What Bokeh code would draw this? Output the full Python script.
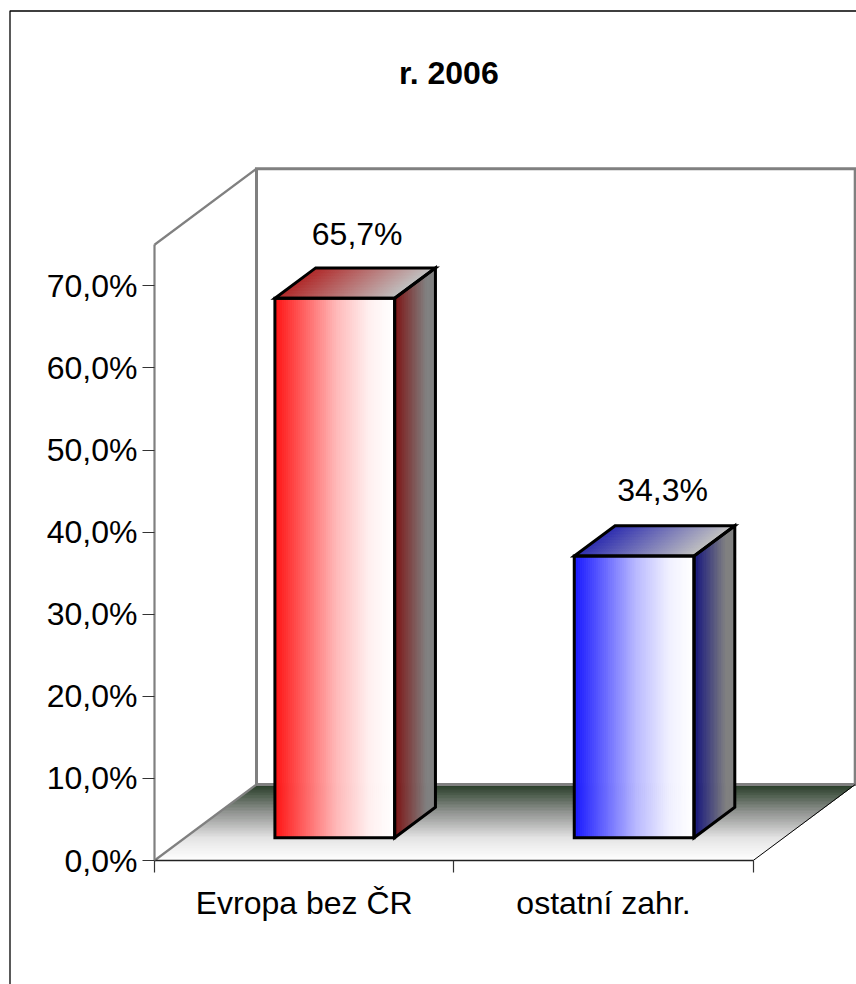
from bokeh.plotting import figure
from bokeh.models import Range1d, LinearAxis, FixedTicker
from bokeh.core.properties import value
from bokeh.embed import file_html
from bokeh.resources import INLINE

# ---- data
categories = ["Evropa bez ČR", "ostatní zahr."]
shares = [65.7, 34.3]
share_labels = ["65,7%", "34,3%"]
y_ticks = [0, 10, 20, 30, 40, 50, 60, 70]
y_tick_labels = ["0,0%", "10,0%", "20,0%", "30,0%", "40,0%", "50,0%", "60,0%", "70,0%"]
title_text = "r. 2006"

# ---- layout / projection
W, H = 856, 984
PX_X, PX_Y = 299.35, 8.21          # pixels per category, per percent
ORIGIN_X, ORIGIN_Y = 154.0, 860.0  # origin inside the figure, pixels
DEPTH_X, DEPTH_Y = 102 / PX_X, 76 / PX_Y
Y_MAX = 75
BAR_X = (0.3, 0.7)
BAR_D = (0.3, 0.7)
FONT = "Liberation Sans"
FS = "32px"
LABEL_DX = [2, 8]
LABEL_DY = [-49, -51]

x_lo, x_hi = -ORIGIN_X / PX_X, (W - ORIGIN_X) / PX_X
y_lo, y_hi = -(H - ORIGIN_Y) / PX_Y, ORIGIN_Y / PX_Y

p = figure(width=W, height=H, output_backend="svg", toolbar_location=None,
           x_range=Range1d(x_lo, x_hi), y_range=Range1d(y_lo, y_hi),
           x_axis_type=None, y_axis_type=None, min_border=0,
           outline_line_color=None, background_fill_color="white",
           border_fill_color="white")
p.grid.visible = False


def proj(x, v, d):
    return x + d * DEPTH_X, v + d * DEPTH_Y


def ramp(stops, t):
    for (t0, c0), (t1, c1) in zip(stops, stops[1:]):
        if t <= t1:
            f = (t - t0) / (t1 - t0)
            return "#%02x%02x%02x" % tuple(round(a + (b - a) * f) for a, b in zip(c0, c1))
    return "#%02x%02x%02x" % stops[-1][1]


def gradient(quads, stops):
    xs, ys, cols = [], [], []
    n = len(quads)
    for i, q in enumerate(quads):
        xs.append([a for a, _ in q])
        ys.append([b for _, b in q])
        cols.append(ramp(stops, i / max(n - 1, 1)))
    p.patches(xs, ys, fill_color=cols, line_color=cols, line_width=1)


# page border (left and top only: the rest runs off the picture)
bx, by = (9.5 - ORIGIN_X) / PX_X, (ORIGIN_Y - 10.5) / PX_Y
p.line([bx, bx, x_hi], [y_lo, by, by], line_color="black", line_width=1.3)

# floor
N = 50
floor = []
for i in range(N):
    d0, d1 = 1 - i / N, 1 - (i + 1) / N
    floor.append([proj(0, 0, d0), proj(2, 0, d0), proj(2, 0, d1), proj(0, 0, d1)])
gradient(floor, [(0, (38, 60, 38)), (0.38, (148, 150, 148)), (0.72, (228, 228, 228)), (1, (254, 254, 254))])

# walls
GREY = "#808080"
wall = [proj(0, 0, 1), proj(0, Y_MAX, 1), proj(2, Y_MAX, 1), proj(2, 0, 1), proj(0, 0, 1)]
p.line([a for a, _ in wall], [b for _, b in wall], line_color=GREY, line_width=3, line_join="miter")
side = [proj(0, 0, 0), proj(0, 0, 1)]
p.line([a for a, _ in side], [b for _, b in side], line_color=GREY, line_width=2.2)
side = [proj(0, Y_MAX, 0), proj(0, Y_MAX, 1)]
p.line([a for a, _ in side], [b for _, b in side], line_color=GREY, line_width=2.2)
side = [proj(2, 0, 0), proj(2, 0, 1)]
p.line([a for a, _ in side], [b for _, b in side], line_color="black", line_width=1)

# axes
yax = LinearAxis(fixed_location=0, ticker=FixedTicker(ticks=y_ticks), bounds=(0, Y_MAX),
                 major_label_overrides=dict(zip(y_ticks, y_tick_labels)),
                 axis_line_color=GREY, axis_line_width=2.2,
                 major_tick_line_color="#333333", major_tick_line_width=1.2,
                 major_tick_in=0, major_tick_out=12, minor_tick_line_color=None,
                 major_label_standoff=5, major_label_text_font=FONT,
                 major_label_text_font_size=FS, major_label_text_color="black")
p.add_layout(yax, "left")

xax = LinearAxis(fixed_location=0, ticker=FixedTicker(ticks=[0, 1, 2]), bounds=(0, 2),
                 major_label_text_font_size="0px", major_label_text_color=None,
                 axis_line_color="#222222", axis_line_width=1.6,
                 major_tick_line_color="#333333", major_tick_line_width=1.2,
                 major_tick_in=0, major_tick_out=12, minor_tick_line_color=None)
p.add_layout(xax, "below")

xlab = LinearAxis(fixed_location=0, ticker=FixedTicker(ticks=[0.5, 1.5]), bounds=(0, 2),
                  major_label_overrides=dict(zip([0.5, 1.5], categories)),
                  axis_line_color=None, major_tick_line_color=None, minor_tick_line_color=None,
                  major_tick_in=0, major_tick_out=12, major_label_standoff=12,
                  major_label_text_font=FONT, major_label_text_font_size=FS,
                  major_label_text_color="black")
p.add_layout(xlab, "below")

# bars
palettes = [
    ((255, 20, 20), (125, 20, 20), (176, 40, 40), (255, 185, 185), (255, 240, 240)),
    ((25, 25, 255), (20, 20, 125), (45, 45, 176), (185, 185, 255), (240, 240, 255)),
]
LIGHT, SIDE_END, TOP_END = (255, 255, 255), (128, 128, 128), (192, 192, 192)
S = 60
for i, v in enumerate(shares):
    front_c, side_c, top_c, mid_c, pale_c = palettes[i]
    x0, x1 = i + BAR_X[0], i + BAR_X[1]
    d0, d1 = BAR_D

    fr = []
    for k in range(S):
        a, b = x0 + (x1 - x0) * k / S, x0 + (x1 - x0) * (k + 1) / S
        fr.append([proj(a, 0, d0), proj(b, 0, d0), proj(b, v, d0), proj(a, v, d0)])
    gradient(fr, [(0, front_c), (0.52, mid_c), (0.8, pale_c), (1, LIGHT)])

    tp = []
    for k in range(S):
        a, b = x0 + (x1 - x0) * k / S, x0 + (x1 - x0) * (k + 1) / S
        tp.append([proj(a, v, d0), proj(b, v, d0), proj(b, v, d1), proj(a, v, d1)])
    gradient(tp, [(0, top_c), (1, TOP_END)])

    sd = []
    for k in range(S // 2):
        a, b = d0 + (d1 - d0) * k / (S // 2), d0 + (d1 - d0) * (k + 1) / (S // 2)
        sd.append([proj(x1, 0, a), proj(x1, 0, b), proj(x1, v, b), proj(x1, v, a)])
    gradient(sd, [(0, side_c), (0.8, SIDE_END), (1, SIDE_END)])

    outlines = [
        [proj(x0, 0, d0), proj(x1, 0, d0), proj(x1, v, d0), proj(x0, v, d0)],
        [proj(x0, v, d0), proj(x1, v, d0), proj(x1, v, d1), proj(x0, v, d1)],
        [proj(x1, 0, d0), proj(x1, 0, d1), proj(x1, v, d1), proj(x1, v, d0)],
    ]
    p.patches([[a for a, _ in q] for q in outlines], [[b for _, b in q] for q in outlines],
              fill_color=None, line_color="black", line_width=3, line_join="miter")

# value labels
lx, ly = zip(*[proj(i + 0.5, v, 0.5) for i, v in enumerate(shares)])
p.text(list(lx), list(ly), text=share_labels, text_align="center", text_baseline="middle",
       x_offset=LABEL_DX, y_offset=LABEL_DY, text_font=value(FONT), text_font_size=FS,
       text_color="black")

# title
p.text([1.0 - 5 / PX_X], [(ORIGIN_Y - 72) / PX_Y], text=[title_text], text_align="center", text_baseline="middle",
       text_font=value(FONT), text_font_size=FS, text_font_style="bold", text_color="black")

open("out.html", "w").write(file_html(p, INLINE))
